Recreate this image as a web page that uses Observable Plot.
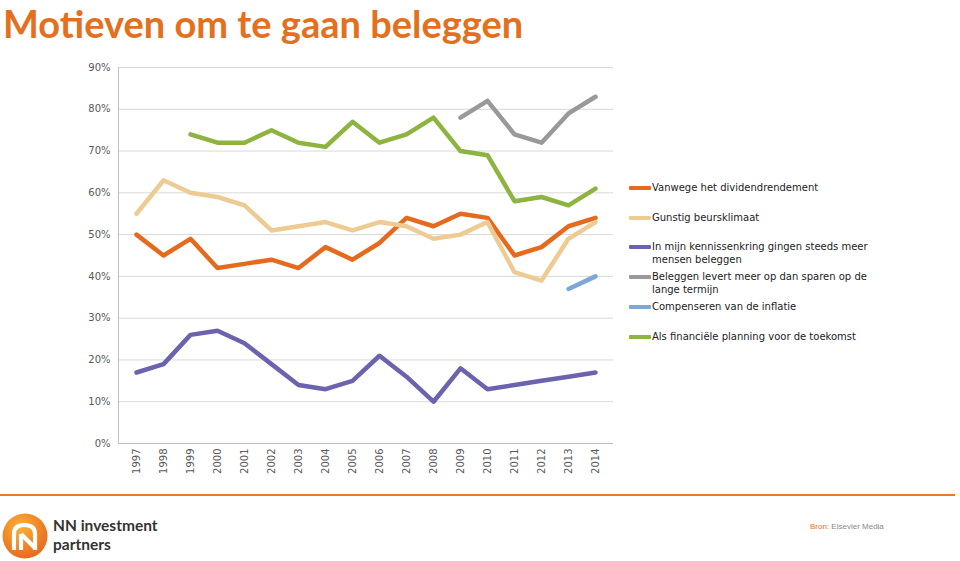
<!DOCTYPE html>
<html><head><meta charset="utf-8">
<script src="https://cdn.jsdelivr.net/npm/d3@7"></script>
<script src="https://cdn.jsdelivr.net/npm/@observablehq/plot@0.6"></script>
<style>
body{margin:0;width:960px;height:561px;position:relative;overflow:hidden;background:#fff;font-family:"DejaVu Sans",sans-serif}
#title{position:absolute;left:3px;top:0px;font:bold 38px Lato,"Open Sans",sans-serif;line-height:normal;color:#E4701E;white-space:nowrap}
#chart{position:absolute;left:0;top:50px}
#legend{position:absolute;left:629px;top:0;width:320px}
.li{position:absolute;left:0;display:flex;align-items:flex-start;font-size:10px;color:#222;line-height:13px;white-space:nowrap}
.sw{width:22px;height:4px;margin-top:5px;margin-right:1px;border-radius:1px}
#rule{position:absolute;left:0;top:494px;width:955px;height:2px;background:#E87A2B}
#logo{position:absolute;left:2px;top:513px}
#brand{position:absolute;left:53px;top:516px;font:bold 15.5px Lato,"Open Sans",sans-serif;color:#333;line-height:18.8px;white-space:nowrap}
#src{position:absolute;left:810px;top:522px;font:8px "Liberation Sans",sans-serif;color:#888}
#src span{color:#E4701E}
</style></head><body>
<div id="title">Motieven om te gaan beleggen</div>
<div id="chart"></div>
<div id="legend"></div>
<div id="rule"></div>
<svg id="logo" width="46" height="46" viewBox="0 0 46 46">
<defs><radialGradient id="g" cx="0.4" cy="0.3" r="0.8"><stop offset="0" stop-color="#F9B233"/><stop offset="1" stop-color="#E8601C"/></radialGradient></defs>
<circle cx="23" cy="23" r="22.5" fill="url(#g)"/>
<g fill="none" stroke="#fff" stroke-width="4.2" stroke-linejoin="round">
<path d="M12 37 L12 21 Q12 12 22 12 Q33 12 33 21 L33 37"/>
<path d="M19 21 L19 37"/>
<path d="M19 21 L33 35"/>
</g>
</svg>
<div id="brand">NN investment<br>partners</div>
<div id="src"><span>Bron:</span> Elsevier Media</div>
<script>
const years = ["1997","1998","1999","2000","2001","2002","2003","2004","2005","2006","2007","2008","2009","2010","2011","2012","2013","2014"];
const seriesNames = [
  "Vanwege het dividendrendement",
  "Gunstig beursklimaat",
  "In mijn kennissenkring gingen steeds meer mensen beleggen",
  "Beleggen levert meer op dan sparen op de lange termijn",
  "Compenseren van de inflatie",
  "Als financiële planning voor de toekomst"
];
const legendLines = [
  ["Vanwege het dividendrendement"],
  ["Gunstig beursklimaat"],
  ["In mijn kennissenkring gingen steeds meer","mensen beleggen"],
  ["Beleggen levert meer op dan sparen op de","lange termijn"],
  ["Compenseren van de inflatie"],
  ["Als financiële planning voor de toekomst"]
];
const colors = ["#E66A1E","#EDCB92","#6B63AD","#999999","#7AA8D8","#8CB43E"];
const dividend = [50,45,49,42,43,44,42,47,44,48,54,52,55,54,45,47,52,54];
const gunstig  = [55,63,60,59,57,51,52,53,51,53,52,49,50,53,41,39,49,53];
const kennis   = [17,19,26,27,24,19,14,13,15,21,16,10,18,13,14,15,16,17];
const sparen   = [null,null,null,null,null,null,null,null,null,null,null,null,78,82,74,72,79,83];
const inflatie = [null,null,null,null,null,null,null,null,null,null,null,null,null,null,null,null,37,40];
const planning = [null,null,74,72,72,75,72,71,77,72,74,78,70,69,58,59,57,61];
const yTicks = [0,10,20,30,40,50,60,70,80,90];

const allSeries = [dividend,gunstig,kennis,sparen,inflatie,planning];
const data = [];
allSeries.forEach((vals,i)=>vals.forEach((v,j)=>{ if(v!=null) data.push({year:years[j],value:v/100,series:seriesNames[i]}); }));

const chart = Plot.plot({
  width:620, height:430,
  marginLeft:118, marginRight:7, marginTop:17, marginBottom:37,
  style:{fontFamily:"DejaVu Sans, sans-serif", fontSize:"10px", color:"#595959", background:"transparent"},
  x:{type:"point", domain:years, padding:0.5, label:null},
  y:{domain:[0,0.9], label:null},
  color:{domain:seriesNames, range:colors},
  marks:[
    Plot.gridY(yTicks.map(d=>d/100),{stroke:"#d9d9d9",strokeOpacity:1}),
    Plot.ruleY([0],{stroke:"#c0c0c0"}),
    Plot.frame({anchor:"left",stroke:"#c0c0c0"}),
    Plot.axisY(yTicks.map(d=>d/100),{tickFormat:d=>Math.round(d*100)+"%",tickSize:0,tickPadding:8,fill:"#595959"}),
    Plot.axisX({tickRotate:-90,tickSize:0,tickPadding:5,fill:"#595959"}),
    Plot.line(data,{x:"year",y:"value",z:"series",stroke:"series",strokeWidth:4.5,strokeLinejoin:"round",strokeLinecap:"round"})
  ]
});
document.getElementById("chart").appendChild(chart);

const legendTops = [181,211,240,270,300,330];
const leg = document.getElementById("legend");
seriesNames.forEach((n,i)=>{
  const d = document.createElement("div");
  d.className="li"; d.style.top = legendTops[i]+"px";
  d.innerHTML = `<div class="sw" style="background:${colors[i]}"></div><div>${legendLines[i].join("<br>")}</div>`;
  leg.appendChild(d);
});
</script>
</body></html>
